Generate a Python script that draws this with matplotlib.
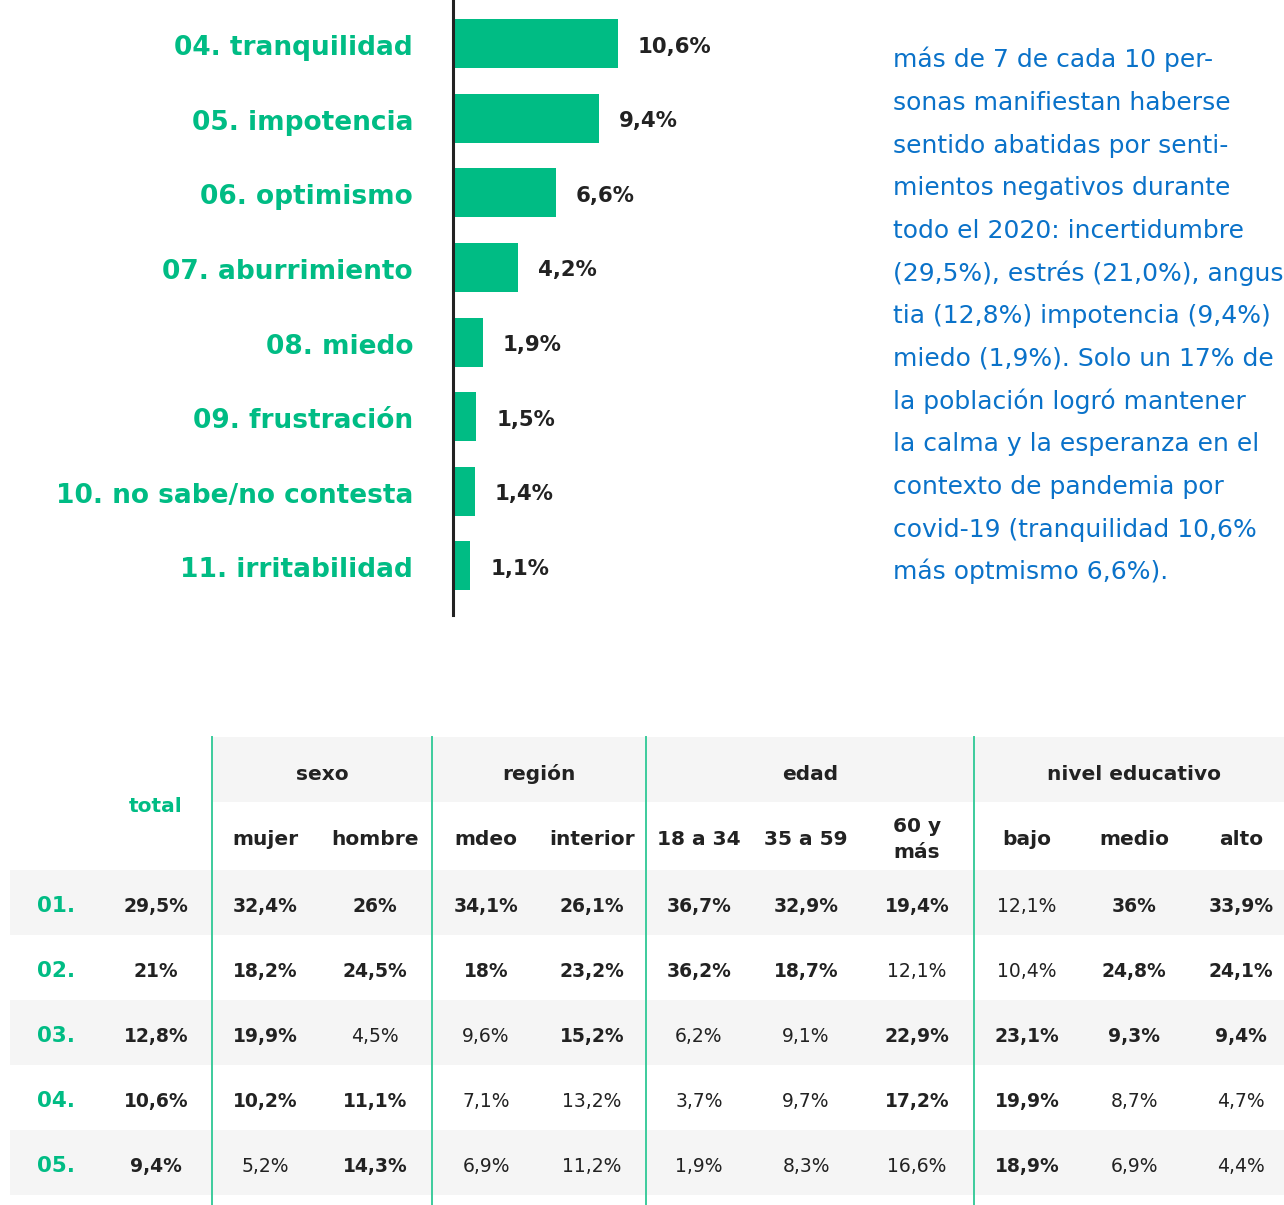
import numpy as np
import matplotlib
matplotlib.use('Agg')
import matplotlib.pyplot as plt
from matplotlib.patches import Rectangle

## DATA
categories = ['04. tranquilidad', '05. impotencia', '06. optimismo', '07. aburrimiento',
              '08. miedo', '09. frustración', '10. no sabe/no contesta', '11. irritabilidad']
values = [10.6, 9.4, 6.6, 4.2, 1.9, 1.5, 1.4, 1.1]

note_lines = ['más de 7 de cada 10 per-',
              'sonas manifiestan haberse',
              'sentido abatidas por senti-',
              'mientos negativos durante',
              'todo el 2020: incertidumbre',
              '(29,5%), estrés (21,0%), angus',
              'tia (12,8%) impotencia (9,4%)',
              'miedo (1,9%). Solo un 17% de',
              'la población logró mantener',
              'la calma y la esperanza en el',
              'contexto de pandemia por',
              'covid-19 (tranquilidad 10,6%',
              'más optmismo 6,6%).']

row_labels = ['01.', '02.', '03.', '04.', '05.']
total = [29.5, 21.0, 12.8, 10.6, 9.4]
groups = ['sexo', 'región', 'edad', 'nivel educativo']
subcols = ['mujer', 'hombre', 'mdeo', 'interior', '18 a 34', '35 a 59', '60 y\nmás',
           'bajo', 'medio', 'alto']
table_vals = [
    [32.4, 26.0, 34.1, 26.1, 36.7, 32.9, 19.4, 12.1, 36.0, 33.9],
    [18.2, 24.5, 18.0, 23.2, 36.2, 18.7, 12.1, 10.4, 24.8, 24.1],
    [19.9, 4.5, 9.6, 15.2, 6.2, 9.1, 22.9, 23.1, 9.3, 9.4],
    [10.2, 11.1, 7.1, 13.2, 3.7, 9.7, 17.2, 19.9, 8.7, 4.7],
    [5.2, 14.3, 6.9, 11.2, 1.9, 8.3, 16.6, 18.9, 6.9, 4.4],
]
table_bold = [
    [1, 1, 1, 1, 1, 1, 1, 0, 1, 1],
    [1, 1, 1, 1, 1, 1, 0, 0, 1, 1],
    [1, 0, 0, 1, 0, 0, 1, 1, 1, 1],
    [1, 1, 0, 0, 0, 0, 1, 1, 0, 0],
    [0, 1, 0, 0, 0, 0, 0, 1, 0, 0],
]

## STYLE
GREEN = '#00bc84'
LINE_GREEN = '#3ccb9c'
BLUE = '#0a72c9'
DARK = '#222222'
GRAY = '#f5f5f5'
FONT = 'DejaVu Sans'
W, H = 1284, 1205
PT = 0.72  # points per pixel at dpi 100


def fmt(v):
    return f'{v:g}'.replace('.', ',') + '%'


fig = plt.figure(figsize=(W / 100, H / 100), dpi=100)
fig.patch.set_facecolor('white')

## BAR CHART
px_per_unit = 15.57
ax = fig.add_axes([453 / W, 1 - 615 / H, 400 / W, 615 / H])
y = np.arange(len(values))
ax.barh(y, values, height=0.657, color=GREEN)
ax.set_xlim(0, 400 / px_per_unit)
ax.set_ylim(len(values) - 1 + 0.657, -0.583)
for s in ['top', 'right', 'bottom']:
    ax.spines[s].set_visible(False)
ax.spines['left'].set_linewidth(2.2)
ax.spines['left'].set_color(DARK)
ax.set_xticks([])
ax.set_yticks([])
for yi, (cat, v) in enumerate(zip(categories, values)):
    # category label, right aligned 40px left of the axis line
    ax.annotate(cat, (0, yi), xytext=(-40 * PT, -11.5 * PT), textcoords='offset points',
                va='baseline', ha='right', fontsize=19, fontweight='bold',
                color=GREEN, family=FONT)
    ax.annotate(fmt(v), (v, yi), xytext=(20 * PT, -9 * PT), textcoords='offset points',
                va='baseline', ha='left', fontsize=15.3, fontweight='bold',
                color=DARK, family=FONT)

## NOTE TEXT
for i, line in enumerate(note_lines):
    fig.text(893 / W, 1 - (67.3 + i * 42.67) / H, line, fontsize=18, color=BLUE,
             family=FONT, va='baseline', ha='left')

## TABLE
tx = fig.add_axes([0, 0, 1, 1])
tx.set_xlim(0, W)
tx.set_ylim(H, 0)
tx.axis('off')

label_x = 56
total_x = 156
col_x = [265, 375, 486, 592, 699, 806, 917, 1027, 1134, 1241]
dividers = [212, 432, 646, 974, W]
head_top, head_mid, body_top, row_h = 737, 802, 870, 65

tx.add_patch(Rectangle((dividers[0], head_top), W - dividers[0], head_mid - head_top,
                       color=GRAY, lw=0))
for i in range(len(row_labels)):
    top = body_top + i * row_h
    if i % 2 == 0:
        tx.add_patch(Rectangle((10, top), W - 10, row_h, color=GRAY, lw=0))

for d in dividers[:-1]:
    tx.plot([d, d], [head_top, H], color=LINE_GREEN, lw=1.4)

# group headers
for k, g in enumerate(groups):
    cx = (dividers[k] + dividers[k + 1]) / 2 + (5 if k == len(groups) - 1 else 0)
    tx.text(cx, 780.5, g, ha='center', va='baseline', fontsize=14.5,
            fontweight='bold', color=DARK, family=FONT)

tx.text(total_x, 812, 'total', ha='center', va='baseline',
        fontsize=14.5, fontweight='bold', color=GREEN, family=FONT)

for cx, name in zip(col_x, subcols):
    parts = name.split('\n')
    if len(parts) == 1:
        base = [844.7]
    else:
        base = [832, 858]
    for p, b in zip(parts, base):
        tx.text(cx, b, p, ha='center', va='baseline', fontsize=14.5,
                fontweight='bold', color=DARK, family=FONT)

for i, lab in enumerate(row_labels):
    base = body_top + i * row_h + 42
    tx.text(label_x, base, lab, ha='center', va='baseline', fontsize=15.5, fontweight='bold',
            color=GREEN, family=FONT)
    tx.text(total_x, base, fmt(total[i]), ha='center', va='baseline', fontsize=13.5,
            fontweight='bold', color=DARK, family=FONT)
    for j, cx in enumerate(col_x):
        tx.text(cx, base, fmt(table_vals[i][j]), ha='center', va='baseline', fontsize=13.5,
                fontweight='bold' if table_bold[i][j] else 'normal', color=DARK, family=FONT)

fig.savefig('out.png', dpi=100)
